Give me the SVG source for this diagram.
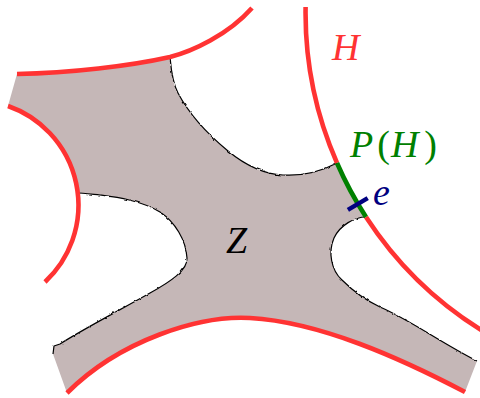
<svg xmlns="http://www.w3.org/2000/svg" width="480" height="398" viewBox="0 0 480 398">
<defs>
<style>
.geo{fill:none;stroke:#ff3333;stroke-width:4.6}
.edge{fill:none;stroke:#000;stroke-width:1.2;stroke-linejoin:round}
.lbl{font-family:"Liberation Serif","Times New Roman",serif;font-style:italic;font-size:38px}
.up{font-style:normal}
</style>
<filter id="rough" x="-10%" y="-10%" width="120%" height="120%">
<feTurbulence type="fractalNoise" baseFrequency="0.18" numOctaves="2" seed="3" result="n"/>
<feDisplacementMap in="SourceGraphic" in2="n" scale="2.4" xChannelSelector="R" yChannelSelector="G"/>
</filter>
</defs>
<rect width="480" height="398" fill="#fff"/>
<g id="Z-region">
<path fill="#c5b7b7" d="M17,74 C70,73 130,66 170,57 C171,68 172,82 178,93 C188,112 205,132 228,151 C245,165 262,174 283,175 C300,176 320,172 337,163 A373,373 0 0 0 366,217 C355,217 340,225 334,238 C328,252 331,270 342,280 C352,290 365,300 380,307 C410,320 440,342 477,361 L465,392 C400,358 320,322 250,318 C200,315 120,340 67,393 L53,354 L54,346 L60,344 C80,331 120,310 150,293 C170,282 188,270 187,258 C186,240 175,222 160,212 C140,200 115,197 100,195 C90,194 82,193 76,193 A105,105 0 0 0 8,106 Z"/>
<g filter="url(#rough)">
<path class="edge" d="M170,57 C171,68 172,82 178,93 C188,112 205,132 228,151 C245,165 262,174 283,175 C300,176 320,172 337,163"/>
<path class="edge" d="M366,217 C355,217 340,225 334,238 C328,252 331,270 342,280 C352,290 365,300 380,307 C410,320 440,342 477,361"/>
<path class="edge" d="M53,354 L54,346 L60,344 C80,331 120,310 150,293 C170,282 188,270 187,258 C186,240 175,222 160,212 C140,200 115,197 100,195 C90,194 82,193 76,193"/>
</g>
</g>
<g id="geodesics">
<path id="top-arc" class="geo" d="M17,74 C70,73 130,66 170,57 C192,51.5 228,35 252,8"/>
<path id="left-arc" class="geo" d="M8,106 A105,105 0 0 1 45,282"/>
<path id="bottom-arc" class="geo" d="M67,393 C120,340 200,315 250,318 C320,322 400,358 465,392"/>
<path id="H" class="geo" d="M305.6,7 A373,373 0 0 0 337,163 M366,217 A373,373 0 0 0 485,332.4"/>
<path id="PH" fill="none" stroke="#008000" stroke-width="4.6" d="M337,163 A373,373 0 0 0 366,217"/>
<line id="e" x1="347.9" y1="209.9" x2="367.7" y2="198.1" stroke="#000080" stroke-width="4.4"/>
</g>
<g id="labels">
<text class="lbl" x="332" y="60" fill="#ff3333">H</text>
<text class="lbl" x="350" y="157" fill="#008000">P<tspan class="up" dx="4">(</tspan><tspan dx="1">H</tspan><tspan class="up" dx="6">)</tspan></text>
<text class="lbl" x="373" y="205" fill="#000080">e</text>
<text class="lbl" x="226" y="253" fill="#000">Z</text>
</g>
</svg>
